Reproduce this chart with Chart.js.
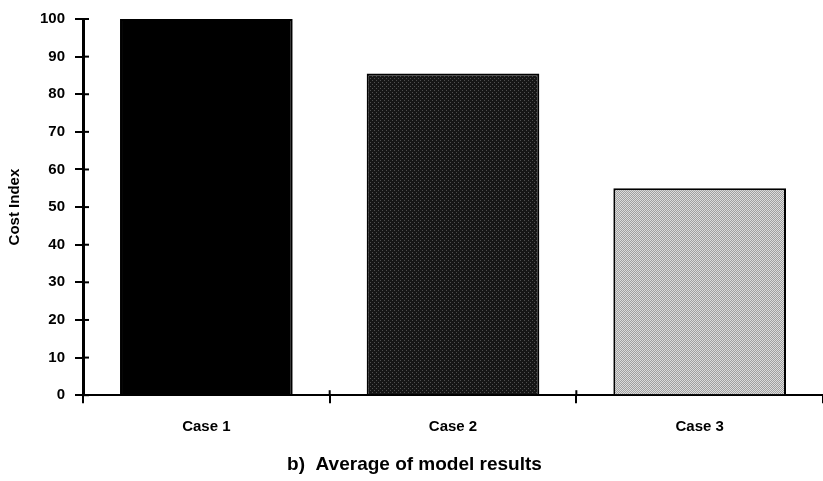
<!DOCTYPE html>
<html>
<head>
<meta charset="utf-8">
<script src="https://cdn.jsdelivr.net/npm/chart.js@4"></script>
<style>
  html, body { margin: 0; padding: 0; background: #fff; }
  #wrap { width: 823px; height: 481px; }
</style>
</head>
<body>
<div id="wrap"><canvas id="chart" width="823" height="481"></canvas></div>
<script>
const cases = ['Case 1', 'Case 2', 'Case 3'];
const costIndex = [100, 85.5, 55];
const yTitle = 'Cost Index';
const chartTitle = 'b)  Average of model results';

// stipple-like fills, scanned halftone look
function pattern(bg, dot, cells) {
  const c = document.createElement('canvas');
  c.width = 4; c.height = 4;
  const g = c.getContext('2d');
  g.fillStyle = bg;
  g.fillRect(0, 0, 4, 4);
  g.fillStyle = dot;
  cells.forEach(p => g.fillRect(p[0], p[1], 1, 1));
  return g.createPattern(c, 'repeat');
}
const ctx = document.getElementById('chart').getContext('2d');
const fills = [
  '#000',
  pattern('#161616', '#505050', [[0, 0], [2, 2]]),
  pattern('#a0a0a0', '#dcdcdc', [[0, 0], [2, 0], [1, 1], [3, 1], [0, 2], [2, 2], [1, 3], [3, 3]])
];

// tick marks that cross the axis line (library ticks only go outward)
const crossTicks = {
  id: 'crossTicks',
  afterDraw(chart) {
    const g = chart.ctx, x = chart.scales.x, y = chart.scales.y;
    g.save();
    g.strokeStyle = '#000';
    g.lineWidth = 2;
    y.ticks.forEach((t, i) => {
      const py = y.getPixelForTick(i);
      g.beginPath(); g.moveTo(y.right, py); g.lineTo(y.right + 6, py); g.stroke();
    });
    for (let i = 1; i < cases.length; i++) {
      const px = (x.getPixelForTick(i - 1) + x.getPixelForTick(i)) / 2;
      g.beginPath(); g.moveTo(px, x.top); g.lineTo(px, x.top - 5); g.stroke();
    }
    g.restore();
  }
};

const bold = size => ({ family: 'Liberation Sans', size: size, weight: 'bold' });

new Chart(ctx, {
  type: 'bar',
  data: {
    labels: cases,
    datasets: [{
      data: costIndex,
      backgroundColor: fills,
      borderColor: '#000',
      borderWidth: 2,
      borderSkipped: 'bottom',
      barPercentage: 0.7,
      categoryPercentage: 1.0
    }]
  },
  options: {
    responsive: false,
    animation: false,
    layout: { padding: { top: 2, right: 0, left: 6, bottom: 5 } },
    plugins: {
      legend: { display: false },
      tooltip: { enabled: false },
      title: {
        display: true,
        position: 'bottom',
        text: chartTitle,
        color: '#000',
        font: bold(19),
        padding: { top: 2, bottom: 0 }
      }
    },
    scales: {
      x: {
        offset: true,
        grid: { display: true, offset: true, drawOnChartArea: false, color: '#000', lineWidth: 2, tickLength: 8 },
        border: { color: '#000', width: 2 },
        ticks: { color: '#000', padding: 15, font: bold(15) }
      },
      y: {
        min: 0,
        max: 100,
        ticks: { stepSize: 10, color: '#000', padding: 10, font: bold(15) },
        grid: { drawOnChartArea: false, color: '#000', lineWidth: 2, tickLength: 8 },
        border: { color: '#000', width: 3 },
        title: {
          display: true,
          text: yTitle,
          color: '#000',
          padding: { top: 0, bottom: 6 },
          font: bold(15)
        }
      }
    }
  },
  plugins: [crossTicks]
});
</script>
</body>
</html>
